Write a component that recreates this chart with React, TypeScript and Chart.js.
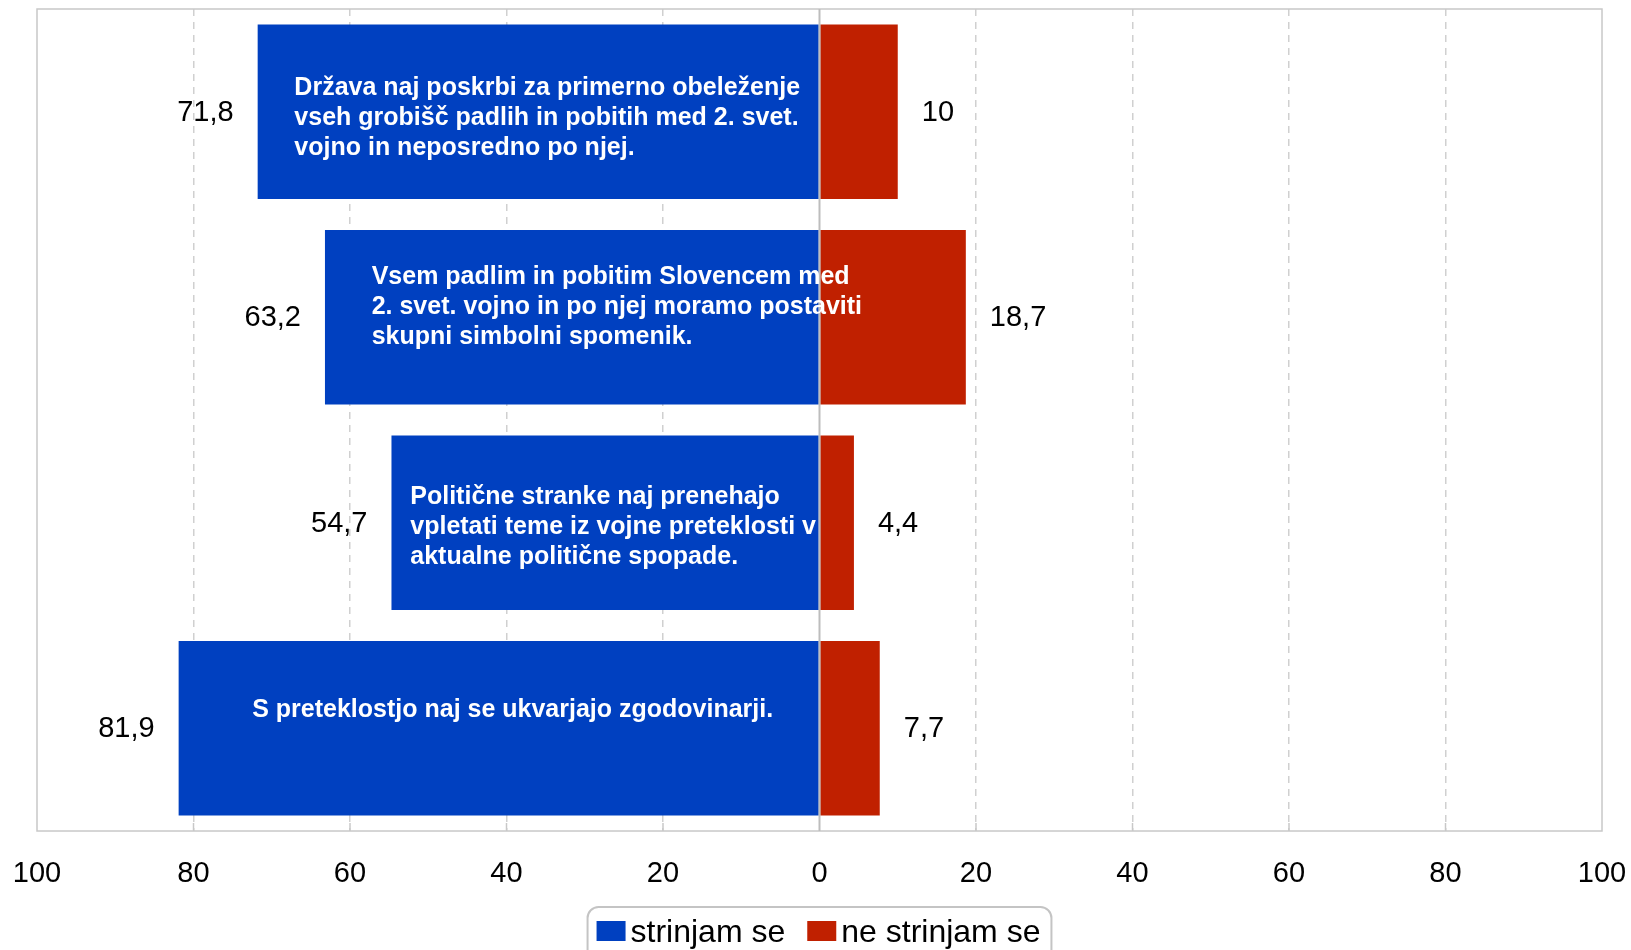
import React, { useEffect, useRef } from "react";
import { Chart, registerables } from "chart.js";

Chart.register(...registerables);

// ---- data ----
const statements: string[][] = [
  [
    "Država naj poskrbi za primerno obeleženje",
    "vseh grobišč padlih in pobitih med 2. svet.",
    "vojno in neposredno po njej.",
  ],
  [
    "Vsem padlim in pobitim Slovencem med",
    "2. svet. vojno in po njej moramo postaviti",
    "skupni simbolni spomenik.",
  ],
  [
    "Politične stranke naj prenehajo",
    "vpletati teme iz vojne preteklosti v",
    "aktualne politične spopade.",
  ],
  ["S preteklostjo naj se ukvarjajo zgodovinarji."],
];
const seriesNames = ["strinjam se", "ne strinjam se"];
const agreeValues = [71.8, 63.2, 54.7, 81.9];
const disagreeValues = [10, 18.7, 4.4, 7.7];
const axisMin = -100;
const axisMax = 100;
const axisStep = 20;

// ---- layout / style ----
const FONT = '"Liberation Sans", Arial, Helvetica, sans-serif';
const BLUE = "#0040C0";
const RED = "#C02000";
const GRID = "#d0d0d0";
const FRAME = "#c8c8c8";
// nudges (px) for the in-bar statement text blocks, relative to the bar centre
const LABEL_NUDGE: [number, number][] = [
  [9, 6],
  [45, -10],
  [8, 4.5],
  [14, -18],
];

const fmt = (v: number) => String(Math.abs(v)).replace(".", ",");

const overlayPlugin = {
  id: "overlay",
  afterDatasetsDraw(chart: any) {
    const { ctx, chartArea: a, scales } = chart;
    const xs = scales.x;
    ctx.save();

    // frame
    ctx.strokeStyle = FRAME;
    ctx.lineWidth = 1.5;
    ctx.strokeRect(a.left, a.top, a.right - a.left, a.bottom - a.top);

    // inside tick marks on bottom axis
    ctx.lineWidth = 1.5;
    for (let v = axisMin + axisStep; v < axisMax; v += axisStep) {
      if (v === 0) continue;
      const px = xs.getPixelForValue(v);
      ctx.beginPath();
      ctx.moveTo(px, a.bottom - 8);
      ctx.lineTo(px, a.bottom);
      ctx.stroke();
    }

    // zero line
    const x0 = xs.getPixelForValue(0);
    ctx.strokeStyle = "#bdbdbd";
    ctx.lineWidth = 2;
    ctx.beginPath();
    ctx.moveTo(x0, a.top);
    ctx.lineTo(x0, a.bottom);
    ctx.stroke();

    // statement text inside blue bars
    const metaA = chart.getDatasetMeta(0);
    const metaD = chart.getDatasetMeta(1);
    ctx.font = `bold 25px ${FONT}`;
    ctx.fillStyle = "#ffffff";
    ctx.textBaseline = "middle";
    ctx.textAlign = "left";
    metaA.data.forEach((bar: any, i: number) => {
      const p = bar.getProps(["x", "y", "base"], true);
      const cx = (p.x + p.base) / 2;
      const lines = statements[i];
      const w = Math.max(...lines.map((l) => ctx.measureText(l).width));
      const [dx, dy] = LABEL_NUDGE[i];
      const left = cx - w / 2 + dx;
      const cy = p.y + dy;
      lines.forEach((ln, j) => {
        ctx.fillText(ln, left, cy + (j - (lines.length - 1) / 2) * 30);
      });
    });

    // value labels
    ctx.font = `29px ${FONT}`;
    ctx.fillStyle = "#000000";
    metaA.data.forEach((bar: any, i: number) => {
      const p = bar.getProps(["x", "y"], true);
      ctx.textAlign = "right";
      ctx.fillText(fmt(agreeValues[i]), p.x - 24, p.y + 1);
    });
    metaD.data.forEach((bar: any, i: number) => {
      const p = bar.getProps(["x", "y"], true);
      ctx.textAlign = "left";
      ctx.fillText(fmt(disagreeValues[i]), p.x + 24, p.y + 1);
    });
    ctx.restore();
  },
  afterDraw(chart: any) {
    // custom legend in a rounded box
    const { ctx, chartArea: a } = chart;
    ctx.save();
    ctx.font = `32px ${FONT}`;
    const colors = [BLUE, RED];
    const sw = 29,
      sh = 20,
      gapSwText = 5,
      gapItems = 22,
      padL = 9,
      padR = 11;
    const widths = seriesNames.map((n) => ctx.measureText(n).width);
    const total =
      padL +
      widths.reduce((s, w) => s + sw + gapSwText + w, 0) +
      gapItems * (seriesNames.length - 1) +
      padR;
    const cx = (a.left + a.right) / 2;
    const left = cx - total / 2;
    const top = a.bottom + 76;
    // box
    ctx.strokeStyle = "#c4c4c4";
    ctx.lineWidth = 2;
    const r = 11;
    const bottom = top + 70;
    const right = left + total;
    ctx.beginPath();
    ctx.moveTo(left + r, top);
    ctx.lineTo(right - r, top);
    ctx.arcTo(right, top, right, top + r, r);
    ctx.lineTo(right, bottom);
    ctx.lineTo(left, bottom);
    ctx.lineTo(left, top + r);
    ctx.arcTo(left, top, left + r, top, r);
    ctx.stroke();
    // items
    let x = left + padL;
    const swTop = top + 14;
    ctx.textBaseline = "alphabetic";
    ctx.textAlign = "left";
    seriesNames.forEach((n, i) => {
      ctx.fillStyle = colors[i];
      ctx.fillRect(x, swTop, sw, sh);
      x += sw + gapSwText;
      ctx.fillStyle = "#000000";
      ctx.fillText(n, x, swTop + sh + 1);
      x += widths[i] + gapItems;
    });
    ctx.restore();
  },
};

export default function App() {
  const ref = useRef<HTMLCanvasElement | null>(null);

  useEffect(() => {
    if (!ref.current) return;
    document.body.style.margin = "0";
    document.body.style.overflow = "hidden";
    Chart.defaults.font.family = FONT;
    const labels = statements.map((s) => s.join(" "));
    const chart = new Chart(ref.current, {
      type: "bar",
      data: {
        labels,
        datasets: [
          {
            label: seriesNames[0],
            data: agreeValues.map((v) => -v),
            backgroundColor: BLUE,
            borderWidth: 0,
            categoryPercentage: 1,
            barPercentage: 0.85,
          },
          {
            label: seriesNames[1],
            data: disagreeValues,
            backgroundColor: RED,
            borderWidth: 0,
            categoryPercentage: 1,
            barPercentage: 0.85,
          },
        ],
      },
      options: {
        indexAxis: "y",
        responsive: false,
        animation: false,
        layout: { padding: { left: 37, right: 29, top: 9, bottom: 0 } },
        plugins: {
          legend: { display: false },
          tooltip: { enabled: false },
        },
        scales: {
          x: {
            stacked: true,
            min: axisMin,
            max: axisMax,
            ticks: {
              stepSize: axisStep,
              color: "#000000",
              font: { size: 29, family: FONT },
              padding: 26,
              maxRotation: 0,
              callback: (v: any) => String(Math.abs(Number(v))),
            },
            grid: {
              drawTicks: false,
              lineWidth: 1.5,
              color: (c: any) => {
                const v = c.tick ? c.tick.value : null;
                if (v === 0 || v === axisMin || v === axisMax) return "rgba(0,0,0,0)";
                return GRID;
              },
            },
            border: { display: false, dash: [7, 6] },
            afterFit: (s: any) => {
              s.height = 119;
              s.paddingLeft = 0;
              s.paddingRight = 0;
            },
          },
          y: {
            stacked: true,
            display: false,
          },
        },
      },
      plugins: [overlayPlugin],
    } as any);
    return () => chart.destroy();
  }, []);

  return (
    <canvas
      ref={ref}
      width={1631}
      height={950}
      style={{ position: "fixed", left: 0, top: 0, display: "block" }}
    />
  );
}
